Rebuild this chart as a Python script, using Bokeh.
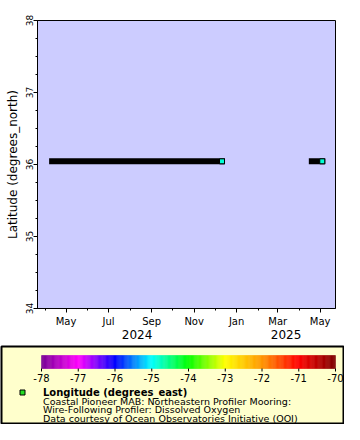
import numpy as np
import pandas as pd
from bokeh.plotting import figure
from bokeh.layouts import column, row
from bokeh.models import (Range1d, FixedTicker, LinearAxis, CustomJSTickFormatter,
                          LinearColorMapper)
from bokeh.transform import transform
from bokeh.core.properties import value
from bokeh.embed import file_html
from bokeh.resources import INLINE

# ---------------- data ----------------
deploy_start = ["2024-04-11", "2025-04-19"]
deploy_end = ["2024-12-11", "2025-05-04"]
latitude = [36.044, 36.044]
longitude = [-74.82, -74.82]

x_start, x_end = "2024-03-21", "2025-05-23"
y_lo, y_hi = 34, 38
y_ticks = [34, 35, 36, 37, 38]
month_ticks = ["2024-05-01", "2024-07-01", "2024-09-01", "2024-11-01",
               "2025-01-01", "2025-03-01", "2025-05-01"]
month_labels = ["May", "Jul", "Sep", "Nov", "Jan", "Mar", "May"]
minor_month_ticks = ["2024-04-01", "2024-05-01", "2024-06-01", "2024-07-01", "2024-08-01",
                     "2024-09-01", "2024-10-01", "2024-11-01", "2024-12-01", "2025-01-01",
                     "2025-02-01", "2025-03-01", "2025-04-01", "2025-05-01"]
year_ticks = ["2024-08-11", "2025-03-13"]
year_labels = ["2024", "2025"]

cbar_lo, cbar_hi = -78, -70
cbar_ticks = [-78, -77, -76, -75, -74, -73, -72, -71, -70]
cbar_stop_colors = [(120, 0, 150), (255, 0, 255), (0, 0, 255), (0, 255, 255), (0, 255, 0),
                    (255, 255, 0), (255, 150, 0), (255, 0, 0), (128, 0, 0)]

legend_title = "Longitude (degrees_east)"
legend_lines = ["Coastal Pioneer MAB: Northeastern Profiler Mooring:",
                "Wire-Following Profiler: Dissolved Oxygen",
                "Data courtesy of Ocean Observatories Initiative (OOI)"]

FONT_NAME = "DejaVu Sans"
FONT = value(FONT_NAME)


def ms(s):
    return pd.Timestamp(s).value / 1e6


def make_palette(n=256):
    stops = np.array(cbar_stop_colors, dtype=float)
    pos = np.linspace(0, 1, len(stops))
    t = np.linspace(0, 1, n)
    out = []
    for v in t:
        r = np.interp(v, pos, stops[:, 0])
        g = np.interp(v, pos, stops[:, 1])
        b = np.interp(v, pos, stops[:, 2])
        out.append("#%02x%02x%02x" % (int(round(r)), int(round(g)), int(round(b))))
    return out


palette = make_palette()
mapper = LinearColorMapper(palette=palette, low=cbar_lo, high=cbar_hi)

# ---------------- main plot ----------------
p = figure(x_axis_type="datetime",
           x_range=Range1d(ms(x_start), ms(x_end)), y_range=Range1d(y_lo, y_hi),
           width=344, height=345,
           min_border_left=37, min_border_right=9, min_border_top=20, min_border_bottom=37,
           output_backend="svg", toolbar_location=None,
           background_fill_color="#ccccff", border_fill_color="white",
           outline_line_color="black", outline_line_width=1)
p.grid.visible = False

src = dict(x0=[pd.Timestamp(s) for s in deploy_start],
           x1=[pd.Timestamp(s) for s in deploy_end],
           y=latitude, lon=longitude)
p.segment(x0="x0", y0="y", x1="x1", y1="y", source=src, line_width=6,
          line_color="black", line_cap="square")
p.scatter(x="x1", y="y", source=src, marker="square", size=5,
          fill_color=transform("lon", mapper), line_color="black", line_width=1)

major_ms = [ms(s) for s in month_ticks]
xa = p.xaxis[0]
xa.ticker = FixedTicker(ticks=major_ms, minor_ticks=[ms(s) for s in minor_month_ticks])
xa.formatter = CustomJSTickFormatter(args=dict(t=major_ms, l=month_labels), code="""
const i = t.findIndex(v => Math.abs(v - tick) < 1);
return i >= 0 ? l[i] : '';
""")
xa.major_label_text_font = FONT_NAME
xa.major_label_text_font_size = "10px"
xa.major_label_text_color = "black"
xa.major_tick_out = 4
xa.major_tick_in = 0
xa.minor_tick_out = 2
xa.minor_tick_in = 0
xa.major_label_standoff = 3
xa.axis_line_color = "black"

year_ms = [ms(s) for s in year_ticks]
ya2 = LinearAxis(ticker=FixedTicker(ticks=year_ms, minor_ticks=[]),
                 formatter=CustomJSTickFormatter(args=dict(t=year_ms, l=year_labels), code="""
const i = t.findIndex(v => Math.abs(v - tick) < 1);
return i >= 0 ? l[i] : '';
"""))
ya2.axis_line_color = None
ya2.major_tick_line_color = None
ya2.minor_tick_line_color = None
ya2.major_tick_out = 0
ya2.major_tick_in = 0
ya2.minor_tick_out = 0
ya2.minor_tick_in = 0
ya2.major_label_standoff = 0
ya2.major_label_text_font = FONT_NAME
ya2.major_label_text_font_size = "12px"
ya2.major_label_text_color = "black"
p.add_layout(ya2, "below")

yax = p.yaxis[0]
yax.ticker = FixedTicker(ticks=y_ticks, minor_ticks=list(np.arange(y_lo, y_hi + 0.01, 0.25)))
yax.major_label_orientation = "vertical"
yax.major_label_text_font = FONT_NAME
yax.major_label_text_font_size = "9px"
yax.major_label_text_color = "black"
yax.major_tick_out = 4
yax.major_tick_in = 0
yax.minor_tick_out = 2
yax.minor_tick_in = 0
yax.major_label_standoff = 1
yax.axis_label = "Latitude (degrees_north)"
yax.axis_label_text_font = FONT_NAME
yax.axis_label_text_font_size = "12px"
yax.axis_label_text_font_style = "normal"
yax.axis_label_text_color = "black"
yax.axis_label_standoff = 3

# ---------------- legend box ----------------
PX_PER_UNIT = 36.75
CB_LEFT_PX = 41   # colorbar left edge, px from the legend figure's left side


def px2lon(px):
    return cbar_lo + (px - CB_LEFT_PX) / PX_PER_UNIT


lg = figure(x_range=Range1d(px2lon(1), px2lon(343)), y_range=Range1d(78, 1),
            width=344, height=79,
            min_border_left=1, min_border_right=1, min_border_top=1, min_border_bottom=1,
            x_axis_location=None, y_axis_location=None,
            output_backend="svg", toolbar_location=None,
            background_fill_color="#ffffcc", border_fill_color="white",
            outline_line_color="black", outline_line_width=2)
lg.grid.visible = False

edges = np.linspace(cbar_lo, cbar_hi, len(palette) + 1)
lg.quad(left=edges[:-1], right=edges[1:], top=10, bottom=23,
        fill_color=palette, line_color=palette, line_width=0.5)
lg.segment(x0=cbar_ticks, y0=23, x1=cbar_ticks, y1=26, line_color="black", line_width=1)
lg.text(x=cbar_ticks, y=32.5, text=[str(t) for t in cbar_ticks], text_align="center",
        text_baseline="middle", text_font=FONT, text_font_size="10px", text_color="black")

lg.scatter(x=[px2lon(22)], y=[47], marker="square", size=5, fill_color="#22dd22",
           line_color="black", line_width=1)
lg.text(x=[px2lon(42.5)], y=[47], text=[legend_title], text_align="left",
        text_baseline="middle", text_font=FONT, text_font_size="10px",
        text_font_style="bold", text_color="black")
lg.text(x=[px2lon(42.5)] * len(legend_lines), y=[55.5, 64, 72.5], text=legend_lines,
        text_align="left", text_baseline="middle", text_font=FONT,
        text_font_size="9.5px", text_color="black")

layout = column(p, row(lg, spacing=0), spacing=0)

open("out.html", "w").write(file_html(layout, INLINE))
